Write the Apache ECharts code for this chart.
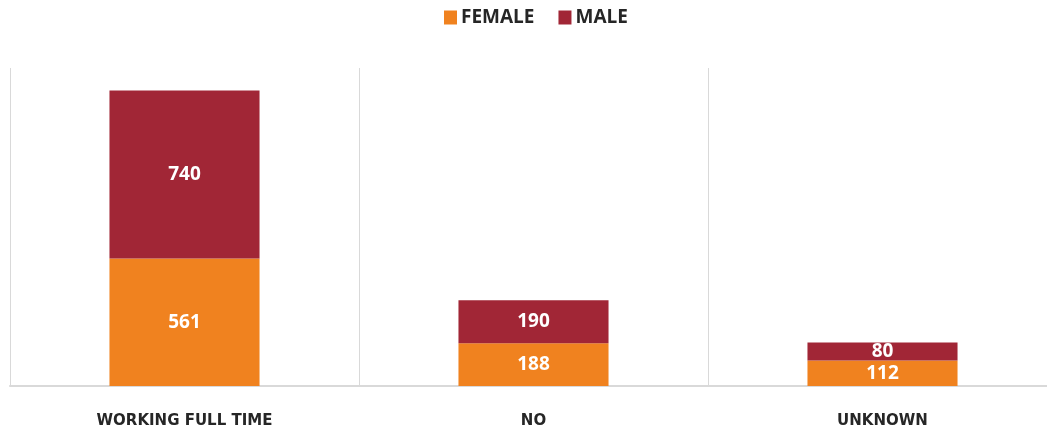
<!DOCTYPE html>
<html>
<head>
<meta charset="utf-8">
<script src="https://cdn.jsdelivr.net/npm/echarts@6/dist/echarts.min.js"></script>
<style>
  html, body { margin: 0; padding: 0; background: #fff; }
  #main { width: 1047px; height: 431px; }
</style>
</head>
<body>
<div id="main"></div>
<script>
// categories and values
var categories = ['WORKING FULL TIME', 'NO', 'UNKNOWN'];
var femaleValues = [561, 188, 112];
var maleValues = [740, 190, 80];

var femaleColor = '#F0821F';
var maleColor = '#A12636';

var chart = echarts.init(document.getElementById('main'));

var labelStyle = {
    show: true,
    position: 'inside',
    color: '#ffffff',
    fontFamily: 'Open Sans',
    fontWeight: 'bold',
    fontSize: 19
};

chart.setOption({
    animation: false,
    legend: {
        top: 8,
        left: 444,
        itemWidth: 13,
        itemHeight: 14,
        itemGap: 24,
        icon: 'rect',
        padding: 0,
        textStyle: {
            color: '#262626',
            fontFamily: 'Open Sans',
            fontWeight: 'bold',
            fontSize: 19,
            padding: [0, 0, 0, -1]
        },
        data: ['FEMALE', 'MALE']
    },
    grid: {
        left: 10,
        top: 68,
        width: 1047,
        bottom: 45,
        containLabel: false,
        outerBoundsMode: 'none'
    },
    xAxis: {
        type: 'category',
        data: categories,
        boundaryGap: true,
        axisLine: { show: true, lineStyle: { color: '#d9d9d9', width: 2 } },
        axisTick: { show: false },
        splitLine: { show: true, lineStyle: { color: '#d9d9d9', width: 1 } },
        axisLabel: {
            margin: 28,
            color: '#262626',
            fontFamily: 'DejaVu Sans',
            fontWeight: 'bold',
            fontSize: 15
        }
    },
    yAxis: {
        type: 'value',
        min: 0,
        max: 1400,
        show: false,
        splitLine: { show: false }
    },
    series: [
        {
            name: 'FEMALE',
            type: 'bar',
            stack: 'total',
            barWidth: '43%',
            itemStyle: { color: femaleColor },
            label: labelStyle,
            data: femaleValues
        },
        {
            name: 'MALE',
            type: 'bar',
            stack: 'total',
            barWidth: '43%',
            itemStyle: { color: maleColor },
            label: labelStyle,
            data: maleValues
        }
    ]
});
</script>
</body>
</html>
